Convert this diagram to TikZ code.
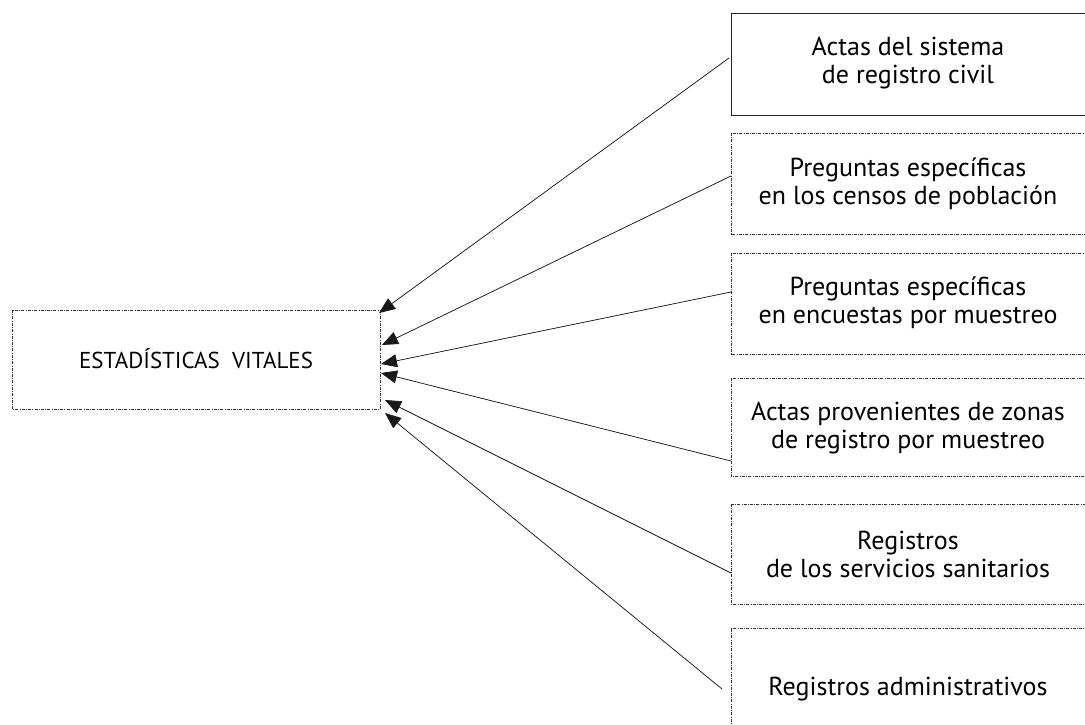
\documentclass[tikz,border=0pt]{standalone}
\usepackage{fontspec}
\setmainfont{PT Sans}
\usetikzlibrary{arrows.meta}
\begin{document}
\begin{tikzpicture}[x=1pt,y=-1pt,
  dd/.style={draw=black!80,line width=0.6pt,dash pattern=on 3pt off 1.3pt on 0.8pt off 1.3pt},
  sbox/.style={draw=black!85,line width=0.7pt},
  lbl/.style={align=center,font=\fontsize{26}{28}\selectfont,text=black},
  arr/.style={-{Triangle[length=16pt,width=13pt]},line width=0.7pt,draw=black!90,fill=black!90}]
\useasboundingbox (0,0) rectangle (1085,725);
% left box
\draw[dd] (12,310) rectangle (380,409);
\node[lbl,font=\fontsize{23}{28}\selectfont] (sv) at (196,359) {ESTADÍSTICAS\ \ VITALES};
% right boxes
\draw[sbox] (731,13) rectangle (1090,115);
\draw[dd] (731,133) rectangle (1090,234);
\draw[dd] (731,253) rectangle (1090,354);
\draw[dd] (731,378) rectangle (1090,476);
\draw[dd] (731,504) rectangle (1090,604);
\draw[dd] (731,728) -- (731,628) -- (1090,628);
\node[lbl] (b1) at (908,63) {Actas del sistema\\de registro civil};
\node[lbl] (b2) at (908,184) {Preguntas específicas\\en los censos de población};
\node[lbl] (b3) at (908,303) {Preguntas específicas\\en encuestas por muestreo};
\node[lbl] (b4) at (908,428) {Actas provenientes de zonas\\de registro por muestreo};
\node[lbl] (b5) at (908,554) {Registros\\de los servicios sanitarios};
\node[lbl] (b6) at (908,689) {Registros administrativos};
% connector ends
\coordinate (s1) at (729,58);
\coordinate (s2) at (731,176);
\coordinate (s3) at (731,292);
\coordinate (s4) at (731,461);
\coordinate (s5) at (731,573);
\coordinate (s6) at (722,689);
\coordinate (t1) at (379,313);
\coordinate (t2) at (382,345);
\coordinate (t3) at (381,364);
\coordinate (t4) at (381,373);
\coordinate (t5) at (385,400);
\coordinate (t6) at (385,413);
\foreach \i in {1,...,6} {\draw[arr] (s\i) -- (t\i);}
\end{tikzpicture}
\end{document}
